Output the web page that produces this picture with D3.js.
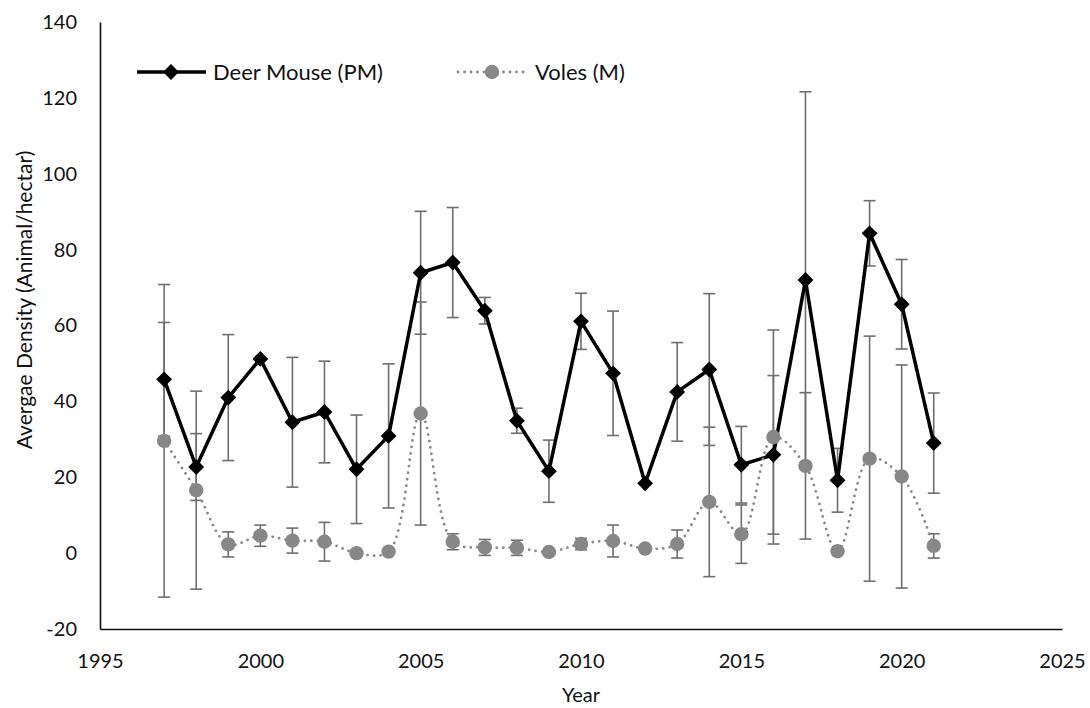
<!DOCTYPE html>
<html>
<head>
<meta charset="utf-8">
<script src="https://cdn.jsdelivr.net/npm/d3@7"></script>
<style>
  body { margin: 0; background: #fff; }
  text { font-family: Lato, "Open Sans", sans-serif; fill: #111; }
</style>
</head>
<body>
<div id="chart-area"></div>
<script>
// Data
var years = [1997, 1998, 1999, 2000, 2001, 2002, 2003, 2004, 2005, 2006, 2007, 2008, 2009,
  2010, 2011, 2012, 2013, 2014, 2015, 2016, 2017, 2018, 2019, 2020, 2021];
var deerMouse = [45.8, 22.7, 41.0, 51.2, 34.5, 37.2, 22.1, 30.9, 73.9, 76.6, 63.9, 34.9, 21.6,
  61.1, 47.4, 18.4, 42.5, 48.4, 23.3, 25.9, 72.0, 19.2, 84.3, 65.6, 29.0];
var deerMouseErr = [15.0, 8.8, 16.6, 0, 17.1, 13.4, 14.3, 19.0, 16.2, 14.5, 3.5, 3.3, 8.2,
  7.4, 16.4, 0, 13.0, 20.0, 10.1, 20.9, 49.6, 8.4, 8.6, 11.8, 13.2];
var voles = [29.6, 16.6, 2.3, 4.6, 3.3, 3.0, 0.0, 0.4, 36.8, 3.0, 1.5, 1.4, 0.3,
  2.4, 3.2, 1.2, 2.4, 13.5, 5.0, 30.6, 23.0, 0.5, 24.9, 20.2, 1.9];
var volesErr = [41.2, 26.1, 3.3, 2.8, 3.3, 5.1, 0, 0, 29.4, 2.1, 2.1, 2.0, 0,
  1.5, 4.2, 0, 3.7, 19.7, 7.7, 28.2, 19.3, 0, 32.3, 29.4, 3.2];

var xTicks = [1995, 2000, 2005, 2010, 2015, 2020, 2025];
var yTicks = [-20, 0, 20, 40, 60, 80, 100, 120, 140];

var margin = { left: 100, right: 28, top: 22, bottom: 79 },
  width = 1090 - margin.left - margin.right,
  height = 708 - margin.top - margin.bottom;

var svg = d3.select("#chart-area").append("svg")
  .attr("width", 1090)
  .attr("height", 708);

var g = svg.append("g")
  .attr("transform", "translate(" + margin.left + "," + margin.top + ")");

// Scales
var x = d3.scaleLinear().domain([1995, 2025]).range([0, width]);
var y = d3.scaleLinear().domain([-20, 140]).range([height, 0]);

// plain hyphen for negatives, like the original
var fmt = function(d) { return String(d); };

// Axes (no tick marks, just labels)
var xAxisCall = d3.axisBottom(x).tickValues(xTicks).tickSize(0).tickPadding(25)
  .tickFormat(fmt);
var yAxisCall = d3.axisLeft(y).tickValues(yTicks).tickSize(0).tickPadding(23)
  .tickFormat(fmt);

var xAxis = g.append("g")
  .attr("class", "x axis")
  .attr("transform", "translate(0," + height + ")")
  .call(xAxisCall);
var yAxis = g.append("g")
  .attr("class", "y axis")
  .call(yAxisCall);

svg.selectAll(".axis .domain")
  .attr("stroke", "#111")
  .attr("stroke-width", 1.6);
svg.selectAll(".axis text")
  .attr("font-size", "20px")
  .style("font-family", "Lato, sans-serif")
  .attr("fill", "#111");

// Axis labels
g.append("text")
  .attr("x", width / 2)
  .attr("y", height + 73)
  .attr("font-size", "20px")
  .attr("text-anchor", "middle")
  .text("Year");

g.append("text")
  .attr("transform", "rotate(-90)")
  .attr("x", -278)
  .attr("y", -68)
  .attr("font-size", "21px")
  .attr("text-anchor", "middle")
  .text("Avergae Density (Animal/hectar)");

// Error bars
var errColor = "#6e6e6e";
function errorBars(vals, errs, cls) {
  var data = years.map(function(yr, i) { return { yr: yr, v: vals[i], e: errs[i] }; })
    .filter(function(d) { return d.e > 0; });
  var eg = g.append("g").attr("class", cls);
  var bars = eg.selectAll("g").data(data).enter().append("g");
  bars.append("line")
    .attr("x1", function(d) { return x(d.yr); })
    .attr("x2", function(d) { return x(d.yr); })
    .attr("y1", function(d) { return y(d.v + d.e); })
    .attr("y2", function(d) { return y(d.v - d.e); });
  bars.append("line")
    .attr("x1", function(d) { return x(d.yr) - 6; })
    .attr("x2", function(d) { return x(d.yr) + 6; })
    .attr("y1", function(d) { return y(d.v + d.e); })
    .attr("y2", function(d) { return y(d.v + d.e); });
  bars.append("line")
    .attr("x1", function(d) { return x(d.yr) - 6; })
    .attr("x2", function(d) { return x(d.yr) + 6; })
    .attr("y1", function(d) { return y(d.v - d.e); })
    .attr("y2", function(d) { return y(d.v - d.e); });
  bars.selectAll("line")
    .attr("stroke", errColor)
    .attr("stroke-width", 1.6);
}
errorBars(deerMouse, deerMouseErr, "err-pm");
errorBars(voles, volesErr, "err-m");

var pmData = years.map(function(yr, i) { return { yr: yr, v: deerMouse[i] }; });
var mData = years.map(function(yr, i) { return { yr: yr, v: voles[i] }; });

// Deer mouse line
var line = d3.line()
  .x(function(d) { return x(d.yr); })
  .y(function(d) { return y(d.v); });

g.append("path")
  .attr("class", "line pm")
  .attr("fill", "none")
  .attr("stroke", "#000")
  .attr("stroke-width", 3.5)
  .attr("stroke-linejoin", "round")
  .attr("d", line(pmData));

var diamond = d3.symbol().type(d3.symbolDiamond2).size(160);
g.selectAll(".pm-pt").data(pmData).enter().append("path")
  .attr("class", "pm-pt")
  .attr("d", diamond)
  .attr("transform", function(d) { return "translate(" + x(d.yr) + "," + y(d.v) + ")"; })
  .attr("fill", "#000");

// Voles line (smoothed, dotted)
var volColor = "#878787";
var smooth = d3.line()
  .curve(d3.curveCatmullRom.alpha(0.5))
  .x(function(d) { return x(d.yr); })
  .y(function(d) { return y(d.v); });

g.append("path")
  .attr("class", "line m")
  .attr("fill", "none")
  .attr("stroke", volColor)
  .attr("stroke-width", 2.8)
  .attr("stroke-linecap", "round")
  .attr("stroke-dasharray", "0,6.5")
  .attr("d", smooth(mData));

g.selectAll(".m-pt").data(mData).enter().append("circle")
  .attr("class", "m-pt")
  .attr("cx", function(d) { return x(d.yr); })
  .attr("cy", function(d) { return y(d.v); })
  .attr("r", 7.2)
  .attr("fill", volColor);

// Legend
var legend = svg.append("g").attr("class", "legend");
var ly = 72;
legend.append("line")
  .attr("x1", 137).attr("x2", 206).attr("y1", ly).attr("y2", ly)
  .attr("stroke", "#000").attr("stroke-width", 3.5);
legend.append("path")
  .attr("d", diamond)
  .attr("transform", "translate(171," + ly + ")")
  .attr("fill", "#000");
legend.append("text")
  .attr("x", 213).attr("y", ly).attr("dy", "0.35em")
  .attr("font-size", "22px")
  .text("Deer Mouse (PM)");

legend.append("line")
  .attr("x1", 458).attr("x2", 525).attr("y1", ly).attr("y2", ly)
  .attr("stroke", volColor).attr("stroke-width", 2.8)
  .attr("stroke-linecap", "round").attr("stroke-dasharray", "0,6.5");
legend.append("circle")
  .attr("cx", 492).attr("cy", ly).attr("r", 7.2)
  .attr("fill", volColor);
legend.append("text")
  .attr("x", 535).attr("y", ly).attr("dy", "0.35em")
  .attr("font-size", "22px")
  .text("Voles (M)");
</script>
</body>
</html>
